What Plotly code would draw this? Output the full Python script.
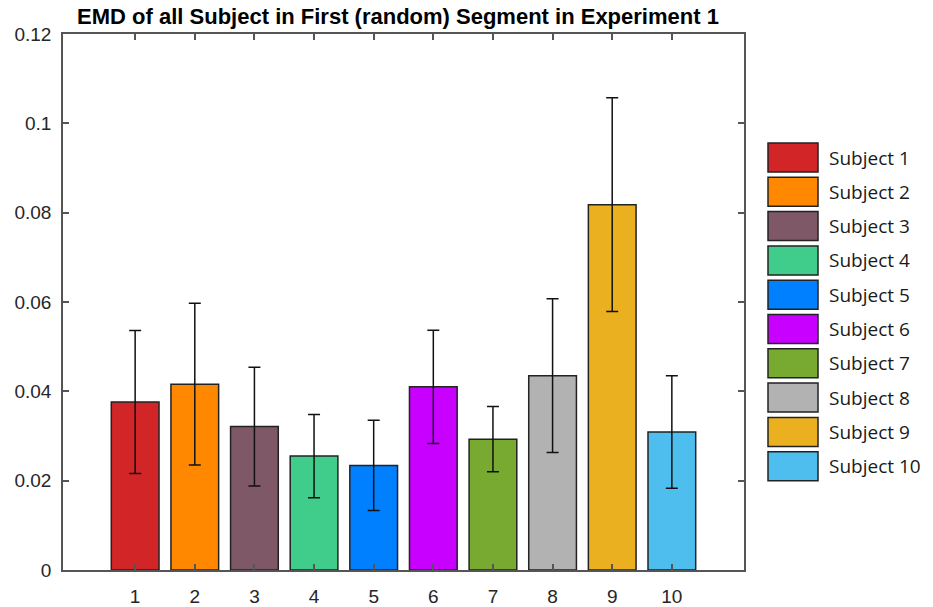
import plotly.graph_objects as go

# Mean EMD per subject and its error (symmetric)
subjects = [1, 2, 3, 4, 5, 6, 7, 8, 9, 10]
emd_mean = [0.0376, 0.0416, 0.0321, 0.0255, 0.0234, 0.0410, 0.0293, 0.0435, 0.0818, 0.0309]
emd_err = [0.0160, 0.0181, 0.0133, 0.0093, 0.0101, 0.0127, 0.0073, 0.0172, 0.0239, 0.0126]
legend_names = ["Subject %d" % s for s in subjects]
colors = ["#D22527", "#FF8800", "#7E5866", "#40CC8A", "#0080FF",
          "#C800FF", "#78AA32", "#B2B2B2", "#EBB020", "#4DBEEE"]
y_ticks = [0, 0.02, 0.04, 0.06, 0.08, 0.1, 0.12]
y_tick_text = ["0", "0.02", "0.04", "0.06", "0.08", "0.1", "0.12"]

W, H = 933, 607
ML, MR, MT, MB = 63, 189, 34, 37

fig = go.Figure()
fig.add_trace(go.Bar(
    x=subjects, y=emd_mean, width=0.8,
    marker=dict(color=colors, line=dict(color="#222222", width=1.5)),
    error_y=dict(type="data", array=emd_err, visible=True,
                 color="#111111", thickness=1.5, width=6),
    showlegend=False,
))

axis_col = "#555555"
tick_font = dict(family="Liberation Sans, Arial", size=19, color="#262626")
fig.update_xaxes(
    range=[-0.21, 11.21], tickvals=subjects, ticktext=[str(s) for s in subjects],
    ticks="inside", ticklen=6, tickcolor=axis_col, tickwidth=1.5,
    showline=True, linecolor=axis_col, linewidth=1.5, mirror="ticks",
    showgrid=False, zeroline=False, tickfont=tick_font, ticklabelstandoff=8,
    automargin=False,
)
fig.update_yaxes(
    range=[0, 0.12], tickvals=y_ticks, ticktext=y_tick_text,
    ticks="inside", ticklen=6, tickcolor=axis_col, tickwidth=1.5,
    showline=True, linecolor=axis_col, linewidth=1.5, mirror="ticks",
    showgrid=False, zeroline=False, tickfont=tick_font, ticklabelstandoff=6,
    automargin=False,
)

# Legend: colored boxes with labels, laid out in pixel units to the right of the axes
shapes = []
annotations = []
box_x0, box_x1 = 768, 818
box_top0, box_h, box_step = 143, 29, 34.3
for i, (name, col) in enumerate(zip(legend_names, colors)):
    top = box_top0 + i * box_step
    shapes.append(dict(
        type="rect", xref="paper", yref="paper",
        x0=(box_x0 - ML) / (W - ML - MR), x1=(box_x1 - ML) / (W - ML - MR),
        y0=(H - MB - (top + box_h)) / (H - MT - MB), y1=(H - MB - top) / (H - MT - MB),
        fillcolor=col, line=dict(color="#222222", width=1.5),
    ))
    annotations.append(dict(
        xref="paper", yref="paper",
        x=(827 - ML) / (W - ML - MR), y=(H - MB - (top + box_h / 2)) / (H - MT - MB),
        xanchor="left", yanchor="middle", showarrow=False,
        text=name, font=dict(family="Open Sans", size=19, color="#1a1a1a"),
    ))

fig.update_layout(
    width=W, height=H,
    margin=dict(l=ML, r=MR, t=MT, b=MB),
    paper_bgcolor="white", plot_bgcolor="white",
    title=dict(
        text="<b>EMD of all Subject in First (random) Segment in Experiment 1</b>",
        x=398 / W, xanchor="center", xref="container",
        y=1 - 16 / H, yanchor="middle", yref="container",
        font=dict(family="Liberation Sans, Arial", size=22, color="#000000"),
    ),
    shapes=shapes, annotations=annotations,
    bargap=0.2,
)

fig.write_html("out.html")
